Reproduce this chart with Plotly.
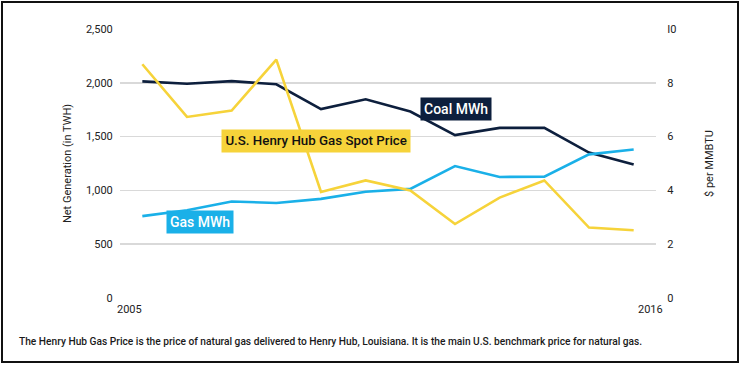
import plotly.graph_objects as go

years = list(range(2005, 2017))
coal_twh = [2013, 1991, 2016, 1986, 1756, 1847, 1733, 1514, 1581, 1582, 1352, 1240]
gas_twh = [761, 816, 897, 883, 921, 988, 1014, 1226, 1125, 1127, 1335, 1380]
henry_hub = [8.69, 6.73, 6.97, 8.86, 3.94, 4.37, 4.00, 2.75, 3.73, 4.37, 2.62, 2.52]

left_ticks = [0, 500, 1000, 1500, 2000, 2500]
left_ticktext = ["0", "500", "1,000", "1,500", "2,000", "2,500"]
right_ticks = [0, 2, 4, 6, 8, 10]
right_ticktext = ["0", "2", "4", "6", "8", "I0"]
x_labels = ["2005", "2016"]
caption = ("The Henry Hub Gas Price is the price of natural gas delivered to Henry Hub, "
           "Louisiana. It is the main U.S. benchmark price for natural gas.")

NAVY = "#0d1f3d"
BLUE = "#1ab0e8"
YELLOW = "#f6d33a"
FONT = "Roboto, sans-serif"

L, R, T, B = 120, 86, 29, 67
W, H = 742, 365
PW, PH = W - L - R, H - T - B


def px_x(p):
    return (p - L) / PW


def px_y(p):
    return (H - B - p) / PH


fig = go.Figure()
fig.add_trace(go.Scatter(x=years, y=coal_twh, mode="lines", line=dict(color=NAVY, width=2.6),
                         name="Coal MWh", yaxis="y"))
fig.add_trace(go.Scatter(x=years, y=gas_twh, mode="lines", line=dict(color=BLUE, width=2.6),
                         name="Gas MWh", yaxis="y"))
fig.add_trace(go.Scatter(x=years, y=henry_hub, mode="lines", line=dict(color=YELLOW, width=2.6),
                         name="U.S. Henry Hub Gas Spot Price", yaxis="y2"))

annotations = [
    dict(x=2012.02, y=1757, xref="x", yref="y", text="Coal MWh", showarrow=False,
         bgcolor=NAVY, font=dict(color="white", size=14, family=FONT, weight=500), borderpad=3),
    dict(x=2008.88, y=1459, xref="x", yref="y", text="U.S. Henry Hub Gas Spot Price", showarrow=False,
         bgcolor=YELLOW, font=dict(color="#111111", size=13.3, family=FONT, weight=500), borderpad=3.4),
    dict(x=2006.3, y=706, xref="x", yref="y", text="Gas MWh", showarrow=False,
         bgcolor=BLUE, font=dict(color="white", size=14, family=FONT, weight=500), borderpad=3),
    dict(x=years[0], y=0, xref="x", yref="paper", text=x_labels[0], showarrow=False,
         xanchor="right", yanchor="top", yshift=-3, xshift=2,
         font=dict(color="#222222", size=11, family=FONT)),
    dict(x=years[-1], y=0, xref="x", yref="paper", text=x_labels[1], showarrow=False,
         xanchor="left", yanchor="top", yshift=-3, xshift=2,
         font=dict(color="#222222", size=11, family=FONT)),
    dict(x=px_x(17), y=px_y(342), xref="paper", yref="paper", xanchor="left", yanchor="middle",
         text=caption, showarrow=False,
         font=dict(color="#1a1a1a", size=10.2, family=FONT, weight=500)),
]

fig.update_layout(
    width=W, height=H,
    margin=dict(l=L, r=R, t=T, b=B, autoexpand=False),
    paper_bgcolor="white", plot_bgcolor="white",
    showlegend=False, hovermode=False,
    font=dict(family=FONT, size=11, color="#222222"),
    xaxis=dict(range=[2004.5, 2016.5], showgrid=False, zeroline=False, showticklabels=False,
               showline=False, ticks=""),
    yaxis=dict(range=[0, 2500], tickvals=left_ticks, ticktext=left_ticktext,
               showgrid=True, gridcolor="#d9d9d9", gridwidth=1.5, zeroline=False,
               ticks="outside", ticklen=4, tickcolor="rgba(0,0,0,0)",
               title=dict(text="Net Generation (in TWH)", standoff=12, font=dict(size=11))),
    yaxis2=dict(range=[0, 10], tickvals=right_ticks, ticktext=right_ticktext, overlaying="y",
                side="right", showgrid=False, zeroline=False,
                ticks="outside", ticklen=8, tickcolor="rgba(0,0,0,0)",
                title=dict(text="$ per MMBTU", standoff=29, font=dict(size=11))),
    annotations=annotations,
    shapes=[dict(type="rect", xref="paper", yref="paper",
                 x0=px_x(2), x1=px_x(738), y0=px_y(362), y1=px_y(2),
                 line=dict(color="#111111", width=2))],
)

fig.write_html("out.html", config={"displayModeBar": False, "staticPlot": True},
               post_script="document.body.style.margin='0';")
